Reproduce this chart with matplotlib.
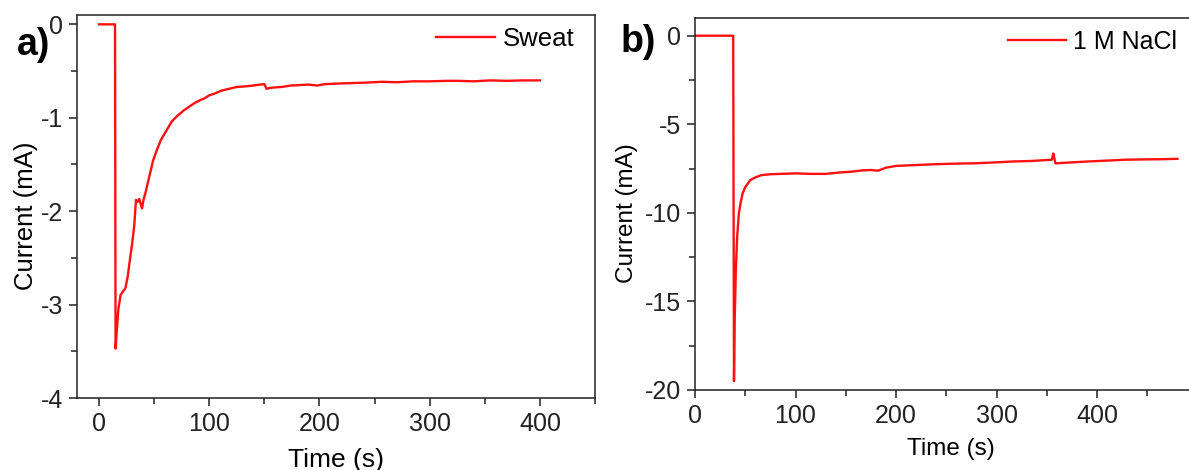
import matplotlib.pyplot as plt
from matplotlib.ticker import MultipleLocator

plt.rcParams['font.family'] = ['Liberation Sans', 'DejaVu Sans']
plt.rcParams['axes.unicode_minus'] = False

# panel a: sweat
t_sweat = [0, 14.5, 15, 16, 17.5, 19.5, 21, 23, 24, 26, 28, 30, 32, 33.5, 35, 36.5, 38, 39, 40.5,
           42, 45, 49, 52, 56, 60, 66, 71, 77, 82, 87, 92, 96, 100, 105, 111, 118, 125, 132, 140,
           146, 150, 152, 155, 160, 166, 174, 182, 190, 198, 205, 215, 225, 240, 257, 270, 285, 300,
           315, 326, 340, 355, 370, 385, 400]
i_sweat = [0, 0, -3.47, -3.3, -3.05, -2.9, -2.87, -2.84, -2.82, -2.7, -2.52, -2.35, -2.15, -1.88,
           -1.9, -1.87, -1.93, -1.97, -1.87, -1.81, -1.66, -1.46, -1.36, -1.24, -1.16, -1.04, -0.98,
           -0.92, -0.88, -0.84, -0.81, -0.79, -0.76, -0.74, -0.71, -0.69, -0.67, -0.665, -0.655,
           -0.645, -0.64, -0.69, -0.68, -0.675, -0.67, -0.655, -0.65, -0.645, -0.655, -0.64, -0.635,
           -0.63, -0.625, -0.615, -0.62, -0.61, -0.61, -0.605, -0.605, -0.61, -0.6, -0.605, -0.6, -0.6]

# panel b: 1 M NaCl
t_nacl = [0, 38, 38.8, 39.5, 40.7, 42, 43.7, 45.5, 47.4, 50, 55, 60, 66, 75, 85, 100, 115, 130,
          144, 155, 167, 175, 182, 190, 200, 220, 241, 260, 279, 300, 316, 335, 355, 356.5, 357.5,
          358.5, 360, 375, 391, 410, 428, 450, 465, 480]
i_nacl = [0, 0, -19.5, -16.0, -13.1, -11.3, -10.0, -9.4, -8.9, -8.55, -8.15, -8.0, -7.87, -7.82,
          -7.8, -7.77, -7.8, -7.8, -7.72, -7.68, -7.6, -7.58, -7.62, -7.45, -7.35, -7.3, -7.25,
          -7.22, -7.2, -7.15, -7.1, -7.07, -7.0, -6.65, -6.9, -7.2, -7.2, -7.15, -7.1, -7.05, -7.0,
          -6.98, -6.97, -6.95]

W, H = 1189, 470
fig = plt.figure(figsize=(W / 100, H / 100), dpi=100)
axa = fig.add_axes([77 / W, 1 - 398 / H, 518 / W, 383 / H])
axb = fig.add_axes([695 / W, 1 - 390 / H, 497.5 / W, 372 / H])

red = '#ff1010'
axa.plot(t_sweat, i_sweat, color=red, lw=1.7, label='Sweat')
axb.plot(t_nacl, i_nacl, color=red, lw=1.7, label='1 M NaCl')

axa.set_xlim(-20, 450)
axa.set_ylim(-4, 0.1)
axa.xaxis.set_major_locator(MultipleLocator(100))
axa.xaxis.set_minor_locator(MultipleLocator(50))
axa.yaxis.set_major_locator(MultipleLocator(1))
axa.yaxis.set_minor_locator(MultipleLocator(0.5))

axb.set_xlim(0, 495)
axb.set_ylim(-20, 1)
axb.xaxis.set_major_locator(MultipleLocator(100))
axb.xaxis.set_minor_locator(MultipleLocator(50))
axb.yaxis.set_major_locator(MultipleLocator(5))
axb.yaxis.set_minor_locator(MultipleLocator(2.5))

for ax in (axa, axb):
    ax.tick_params(which='major', direction='out', length=6, width=1.1, labelsize=18,
                   colors='#222222', pad=4)
    ax.tick_params(which='minor', direction='out', length=4, width=1.1, colors='#222222')
    for s in ax.spines.values():
        s.set_linewidth(1.1)
        s.set_color('#222222')

axa.set_xlabel('Time (s)', fontsize=19)
axa.set_ylabel('Current (mA)', fontsize=18.5)
axa.xaxis.set_label_coords(0.5, -0.13)
axa.yaxis.set_label_coords(-0.075, 0.475)
axb.set_xlabel('Time (s)', fontsize=17.5)
axb.set_ylabel('Current (mA)', fontsize=17.5)
axb.xaxis.set_label_coords(0.515, -0.129)
axb.yaxis.set_label_coords(-0.115, 0.476)

axa.legend(loc='center right', bbox_to_anchor=(0.961, 0.937), frameon=False, fontsize=18.5,
           borderpad=0, borderaxespad=0, handlelength=2.3, handletextpad=0.3)
axb.legend(loc='center right', bbox_to_anchor=(0.969, 0.935), frameon=False, fontsize=18,
           borderpad=0, borderaxespad=0, handlelength=2.3, handletextpad=0.3)

fig.text(17 / W, 1 - 45 / H, 'a)', fontsize=27, fontweight='bold', ha='left', va='center')
fig.text(621 / W, 1 - 42 / H, 'b)', fontsize=27, fontweight='bold', ha='left', va='center')

fig.savefig('out.png', dpi=100)
